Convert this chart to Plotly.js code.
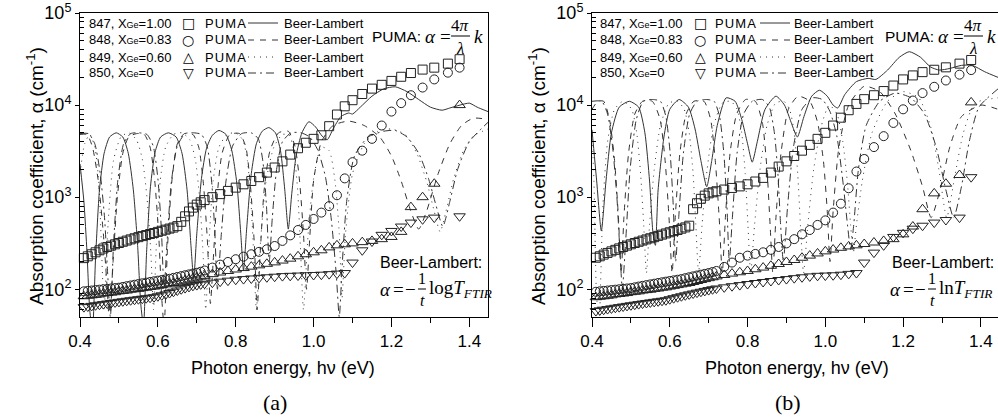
<!DOCTYPE html>
<html><head><meta charset="utf-8">
<script src="https://cdn.plot.ly/plotly-3.0.1.min.js"></script>
<style>html,body{margin:0;padding:0;background:#fff}#chart{width:998px;height:419px}</style>
</head><body><div id="chart"></div>
<script>
// ---------- PUMA marker data (shared energy grid, eV) ----------
const E_puma = [0.41,0.42,0.43,0.44,0.45,0.46,0.47,0.48,0.49,0.50,0.51,0.52,0.53,0.54,0.55,0.56,0.57,0.58,0.59,0.60,0.61,0.62,0.63,0.64,0.65,0.66,0.67,0.68,0.69,0.70,0.71,0.72,
  0.74,0.76,0.78,0.80,0.82,0.84,0.86,0.88,0.90,0.92,0.94,0.96,0.98,1.00,1.02,1.04,1.06,1.08,1.10,1.125,1.15,1.175,1.20,1.225,1.25,1.28,1.31,1.345,1.375];

// panel (a)
const sq_a  = [218,228,240,252,265,277,288,298,308,318,328,338,348,358,368,378,388,398,408,420,432,444,456,468,485,540,620,700,770,830,880,930,
  1000,1080,1170,1270,1380,1500,1650,1850,2100,2450,2900,3400,3900,4300,4700,5900,7900,9700,11300,13200,15100,16600,18300,20300,22300,24300,25500,28200,31500];
const ci_a  = [95,96,97,98,99,100,101,102,103,104,106,108,110,112,114,116,118,120,122,124,126,128,130,133,136,139,142,145,148,151,155,160,
  172,185,198,212,226,240,255,272,295,335,385,440,500,580,680,800,1050,1600,2400,3200,4300,6000,8500,10500,12800,15500,19000,22500,25500];
const tu_a  = [84,85,86,87,88,90,91,92,93,95,96,97,99,100,101,103,104,106,107,109,111,113,115,117,119,122,125,128,131,134,137,140,
  146,152,158,164,170,176,182,189,196,205,215,228,240,252,265,285,300,308,315,325,335,350,370,420,780,1000,1400,null,10000];
const td_a  = [64,65,66,67,68,69,70,71,72,73,74,75,76,77,78,79,80,81,82,84,86,88,91,94,97,100,103,106,109,111,113,115,
  118,121,124,127,129,131,133,135,137,139,140,141,142,143,144,146,148,150,195,265,330,390,430,480,530,575,600,null,620];

// panel (b)
const sq_b  = [220,228,238,248,258,268,278,288,298,308,318,328,338,348,358,368,380,392,404,416,428,440,455,470,490,740,860,960,1040,1100,1130,1160,
  1210,1260,1310,1380,1480,1620,1850,2150,2450,2800,3200,3700,4300,5000,6000,7300,8800,10300,11600,12800,14200,16300,19000,21000,22800,24200,25700,28200,30900];
const ci_b  = [94,95,96,97,98,99,100,101,102,103,105,107,109,111,113,115,117,119,121,123,125,127,129,132,135,138,141,144,147,150,154,158,
  175,195,220,232,242,252,268,288,315,350,395,440,500,560,680,850,1250,1900,2600,3500,4600,6400,9000,11200,13500,15800,18500,21400,24000];
const tu_b  = [82,83,84,85,86,88,89,90,91,93,94,95,97,98,99,101,102,104,105,107,109,111,113,115,117,120,123,126,129,132,135,138,
  143,148,153,158,165,172,180,188,198,208,220,232,245,258,270,282,292,300,310,322,335,350,395,480,740,1100,1400,1740,10700];
const td_b  = [58,59,60,61,62,63,64,65,66,67,68,69,70,71,72,73,74,75,76,78,80,82,84,86,88,90,92,94,96,98,100,102,
  105,108,111,114,117,120,123,126,129,132,135,138,140,141,142,144,147,150,195,250,300,370,410,455,490,530,565,600,1650];

// ---------- Beer-Lambert curves ----------
// panel (a)
const bl847_a_E = [0.400,0.410,0.418,0.425,0.432,0.440,0.450,0.462,0.476,0.493,0.510,0.524,0.537,0.548,0.556,0.563,0.571,0.581,0.593,0.607,0.627,0.647,0.662,0.675,0.685,0.692,0.700,0.712,0.725,0.740,0.757,0.775,0.790,0.803,0.813,0.820,0.828,0.840,0.853,0.868,0.885,0.902,0.915,0.926,0.935,0.944,0.955,0.970,0.988,1.005,1.022,1.035,1.050,1.070,1.090,1.100,1.120,1.150,1.180,1.210,1.240,1.270,1.300,1.330,1.350,1.376,1.400,1.420,1.448];
const bl847_a_A = [2300,900,250,60,35,220,1200,3000,4500,5000,4500,3000,1200,300,70,40,250,1300,3100,4500,5000,4500,3000,1200,300,130,400,1600,3400,4700,5300,4800,3200,1400,400,160,450,1800,3800,5200,5700,5000,3200,1200,450,1100,2800,5000,6600,5800,4600,4200,5500,7500,8200,8000,9500,12500,15000,15800,14000,11500,9500,8800,9300,10000,10500,9500,8500];
const bl848_a_E = [0.400,0.418,0.432,0.447,0.460,0.470,0.476,0.485,0.496,0.510,0.525,0.545,0.565,0.580,0.592,0.602,0.610,0.616,0.625,0.636,0.650,0.668,0.690,0.705,0.717,0.727,0.735,0.742,0.752,0.765,0.785,0.810,0.826,0.838,0.848,0.855,0.863,0.873,0.888,0.910,0.935,0.952,0.964,0.974,0.982,0.990,1.000,1.020,1.050,1.090,1.130,1.170,1.200,1.225,1.250,1.270,1.290,1.320,1.350,1.380,1.410,1.448];
const bl848_a_A = [4800,4800,3500,1500,400,100,40,200,1000,3000,4500,4900,4800,3500,1500,400,80,40,300,1500,3800,4900,4800,3500,1400,350,70,200,1000,3000,4800,4900,3500,1300,300,60,250,1200,3200,5000,5200,3600,1500,400,100,350,1500,4000,6000,6700,6000,4500,2800,1500,700,450,700,1800,3800,6000,7200,7000];
const bl849_a_E = [0.400,0.412,0.425,0.438,0.448,0.455,0.462,0.472,0.486,0.505,0.525,0.545,0.560,0.572,0.582,0.589,0.596,0.606,0.620,0.640,0.662,0.682,0.696,0.707,0.716,0.723,0.731,0.742,0.757,0.778,0.800,0.818,0.830,0.839,0.846,0.853,0.863,0.878,0.898,0.920,0.938,0.950,0.959,0.966,0.974,0.986,1.000,1.020,1.040,1.055,1.066,1.073,1.082,1.100,1.130,1.165,1.200,1.235,1.265,1.290,1.310,1.325,1.340,1.360,1.385,1.410,1.448];
const bl849_a_A = [1800,3800,4800,3500,1500,300,60,500,2500,4500,5000,4200,2600,1000,250,60,300,1500,3500,4800,5000,4200,2600,1000,250,60,300,1500,3500,4800,5000,4200,2500,900,250,60,300,1500,3500,4800,4700,3000,1200,300,60,400,1600,3500,3200,1500,400,80,400,1800,3800,5200,5500,4800,3000,1500,700,420,700,1600,3200,4600,5500];
const bl850_a_E = [0.400,0.422,0.438,0.452,0.463,0.471,0.478,0.486,0.497,0.512,0.530,0.552,0.572,0.588,0.600,0.609,0.616,0.624,0.635,0.650,0.670,0.692,0.712,0.727,0.738,0.746,0.753,0.762,0.775,0.792,0.815,0.840,0.858,0.870,0.879,0.886,0.894,0.905,0.920,0.942,0.968,0.990,1.010,1.030,1.045,1.058,1.066,1.074,1.085,1.105,1.140,1.180,1.210,1.240,1.270,1.295,1.315,1.332,1.350,1.370,1.400,1.448];
const bl850_a_A = [4900,4900,3800,1800,600,150,50,300,1500,3800,4900,5000,4800,3600,1600,450,100,350,1500,3600,4900,5000,4800,3500,1500,450,100,350,1500,3600,4900,5000,4300,2400,800,200,600,2000,4000,5000,5000,4500,3300,1700,600,150,50,200,900,2800,4500,5200,5300,4500,3000,1600,800,480,900,2000,4000,6500];

// panel (b)
const bl847_b_E = [0.400,0.412,0.424,0.436,0.450,0.470,0.496,0.520,0.536,0.548,0.557,0.563,0.570,0.585,0.600,0.624,0.648,0.665,0.680,0.695,0.708,0.722,0.745,0.768,0.785,0.800,0.812,0.825,0.845,0.873,0.895,0.912,0.928,0.945,0.965,0.985,1.005,1.020,1.032,1.050,1.080,1.110,1.130,1.160,1.190,1.216,1.245,1.270,1.293,1.320,1.350,1.378,1.410,1.444];
const bl847_b_A = [5400,1500,430,1500,5000,9500,11000,9500,5000,1500,400,300,1200,4500,9000,11500,9500,5500,2500,1300,2500,6000,12000,11000,7000,3800,2400,4000,9000,12500,10000,6500,4500,7500,12500,14500,12500,10000,9300,13000,18000,19500,19000,24000,33000,38000,33000,26000,24000,25000,27000,27000,23000,20000];
const bl848_b_E = [0.400,0.415,0.430,0.445,0.458,0.468,0.475,0.482,0.494,0.510,0.530,0.555,0.575,0.588,0.598,0.606,0.614,0.626,0.642,0.662,0.688,0.705,0.717,0.727,0.735,0.743,0.755,0.772,0.795,0.820,0.838,0.850,0.858,0.865,0.873,0.886,0.905,0.930,0.960,0.980,0.995,1.005,1.012,1.020,1.035,1.060,1.100,1.140,1.180,1.220,1.250,1.272,1.295,1.320,1.350,1.400,1.444];
const bl848_b_A = [9000,11000,11000,7000,2500,600,150,600,3000,8000,11000,11000,7000,2500,600,150,600,3000,8000,11000,11000,7000,2500,600,150,600,3000,8000,11500,11000,6500,2000,500,150,600,3000,9000,12500,11000,6500,2500,700,200,700,3500,10000,16000,14000,8000,3200,1300,600,1200,3500,7500,10000,9000];
const bl849_b_E = [0.400,0.405,0.411,0.418,0.428,0.440,0.458,0.480,0.502,0.515,0.525,0.533,0.540,0.548,0.560,0.576,0.598,0.620,0.637,0.650,0.660,0.667,0.674,0.683,0.696,0.713,0.735,0.757,0.773,0.785,0.794,0.801,0.808,0.818,0.832,0.850,0.872,0.893,0.908,0.920,0.929,0.936,0.944,0.955,0.970,0.990,1.010,1.030,1.045,1.057,1.065,1.072,1.080,1.095,1.120,1.160,1.200,1.240,1.270,1.292,1.312,1.332,1.355,1.385,1.444];
const bl849_b_A = [5000,1500,100,40,800,4000,9000,11000,9000,5000,1800,500,150,500,2000,6000,10500,11000,9000,5000,1800,500,150,500,2000,6000,10500,11000,9000,5000,1800,500,150,500,2000,6000,10500,11000,9000,5000,1800,500,150,500,2000,6000,10000,8000,4000,1400,500,250,500,1500,5000,11000,14000,12000,6000,2000,600,1600,5000,10500,12000];
const bl850_b_E = [0.400,0.425,0.440,0.453,0.464,0.472,0.478,0.486,0.498,0.514,0.532,0.556,0.576,0.590,0.601,0.609,0.615,0.623,0.635,0.651,0.670,0.694,0.714,0.728,0.739,0.747,0.753,0.761,0.773,0.790,0.812,0.838,0.856,0.869,0.878,0.885,0.892,0.903,0.918,0.940,0.968,0.992,1.012,1.030,1.045,1.057,1.065,1.073,1.085,1.105,1.140,1.180,1.220,1.255,1.285,1.310,1.330,1.350,1.370,1.395,1.444];
const bl850_b_A = [11000,11000,8000,3500,1000,250,100,300,2000,7000,11000,11500,11000,7500,3000,800,200,600,3000,8000,11000,11500,11000,7500,3000,800,200,600,3000,8000,11000,11500,9500,5000,1800,500,200,800,3500,9000,12000,11500,8500,4500,1500,500,270,500,2000,6000,11000,13500,12000,8000,3500,1200,600,1300,4000,9500,15000];

// ---------- labels ----------
const legendLabels = ['847, X<span style="font-size:9px">Ge</span>=1.00','848, X<span style="font-size:9px">Ge</span>=0.83','849, X<span style="font-size:9px">Ge</span>=0.60','850, X<span style="font-size:9px">Ge</span>=0'];
const legendSymbols = ['□','○','△','▽'];
const markerSymbols = ['square-open','circle-open','triangle-up-open','triangle-down-open'];
const markerSizes = [9,9,10,10];
const lineDashes = ['solid','6px,6px','1px,5px','8px,4px,2px,4px'];
const xTickVals = [0.4,0.6,0.8,1.0,1.2,1.4];
const xTickText = ['0.4','0.6','0.8','1.0','1.2','1.4'];
const xMinorVals = [0.5,0.7,0.9,1.1,1.3];
const yTickVals = [100,1000,10000,100000];
const yTickText = ['10<sup>2</sup>','10<sup>3</sup>','10<sup>4</sup>','10<sup>5</sup>'];
const yMinorVals = [60,70,80,90,200,300,400,500,600,700,800,900,2000,3000,4000,5000,6000,7000,8000,9000,20000,30000,40000,50000,60000,70000,80000,90000];

const W = 998, H = 419;
const px = v => v / W, py = v => 1 - v / H;
const LINEC = '#333';

const traces = [];
const pumaA = [sq_a, ci_a, tu_a, td_a], pumaB = [sq_b, ci_b, tu_b, td_b];
const blA = [[bl847_a_E,bl847_a_A],[bl848_a_E,bl848_a_A],[bl849_a_E,bl849_a_A],[bl850_a_E,bl850_a_A]];
const blB = [[bl847_b_E,bl847_b_A],[bl848_b_E,bl848_b_A],[bl849_b_E,bl849_b_A],[bl850_b_E,bl850_b_A]];
[[blA,'x','y'],[blB,'x2','y2']].forEach(([set,xa,ya]) => {
  set.forEach((s,i) => traces.push({x:s[0], y:s[1], xaxis:xa, yaxis:ya, mode:'lines', type:'scatter',
    line:{color:LINEC, width:1, dash:lineDashes[i], shape:'spline', smoothing:0.6}, showlegend:false, hoverinfo:'skip'}));
});
[[pumaA,'x','y'],[pumaB,'x2','y2']].forEach(([set,xa,ya]) => {
  set.forEach((s,i) => traces.push({x:E_puma, y:s, xaxis:xa, yaxis:ya, mode:'markers', type:'scatter', cliponaxis:false,
    marker:{symbol:markerSymbols[i], size:markerSizes[i], color:'#222', line:{width:1, color:'#222'}}, showlegend:false, hoverinfo:'skip'}));
});

const font = 'Liberation Sans, Arial, sans-serif';
const serif = 'Liberation Serif, Times New Roman, serif';
function xax(domain, rmax){ return {domain, range:[0.4,rmax], tickmode:'array', tickvals:xTickVals, ticktext:xTickText,
  ticks:'outside', ticklen:9, tickwidth:1, tickcolor:'#000', showline:true, linecolor:'#000', linewidth:1, mirror:true,
  showgrid:false, zeroline:false, tickfont:{family:font, size:17, color:'#000'},
  minor:{tickmode:'array', tickvals:xMinorVals, ticks:'outside', ticklen:5, tickcolor:'#000', showgrid:false}}; }
function yax(anchor){ return {domain:[py(317), py(13)], type:'log', range:[Math.log10(50),5], anchor, tickmode:'array', tickvals:yTickVals, ticktext:yTickText,
  ticks:'outside', ticklen:4, tickwidth:1, tickcolor:'#000', showline:true, linecolor:'#000', linewidth:1, mirror:true,
  showgrid:false, zeroline:false, tickfont:{family:font, size:18, color:'#000'},
  minor:{tickmode:'array', tickvals:yMinorVals, ticks:'inside', ticklen:4, tickcolor:'#000', showgrid:false}}; }

const ann = [], shapes = [];
function T(x,y,text,size,o){ ann.push(Object.assign({xref:'paper', yref:'paper', x:px(x), y:py(y), text, showarrow:false,
  xanchor:'left', yanchor:'middle', font:{family:font, size:size, color:'#000'}}, o||{})); }
function HL(x0,x1,y,dash){ shapes.push({type:'line', xref:'paper', yref:'paper', x0:px(x0), x1:px(x1), y0:py(y), y1:py(y), line:{color:dash?LINEC:'#000', width:1, dash:dash||'solid'}}); }

[[87,188,203,248,278,282],[598,700,713,760,790,792]].forEach(c => {
  [23,40,57,73].forEach((yy,i) => {
    T(c[0], yy, legendLabels[i], 13);
    T(c[1], yy, legendSymbols[i], 14, {xanchor:'center', font:{family:'DejaVu Sans', size:14, color:'#000'}});
    T(c[2], yy, 'P\u200aU\u200aM\u200aA', 13);
    HL(c[3], c[4], yy, lineDashes[i]);
    T(c[5], yy, 'Beer-Lambert', 13);
  });
});

// PUMA formula
function puma(x0){
  T(x0, 36, 'PUMA:', 15.5);
  T(x0+53, 37, '<i>α</i>', 19, {font:{family:serif, size:19, color:'#000'}});
  T(x0+75, 37, '=', 19, {xanchor:'center', font:{family:serif, size:19, color:'#000'}});
  T(x0+90, 25, '4<i>π</i>', 17, {xanchor:'center', font:{family:serif, size:17, color:'#000'}});
  T(x0+90, 48, '<i>λ</i>', 17, {xanchor:'center', font:{family:serif, size:17, color:'#000'}});
  HL(x0+81, x0+100, 36);
  T(x0+102, 37, '<i>k</i>', 19, {font:{family:serif, size:19, color:'#000'}});
}
puma(370); puma(883);
function bl(x0, fn, xr){
  T(xr, 262, 'Beer-Lambert:', 16, {xanchor:'right'});
  T(x0, 289, '<i>α</i>', 19, {font:{family:serif, size:19, color:'#000'}});
  T(x0+20, 289, '=', 19, {xanchor:'center', font:{family:serif, size:19, color:'#000'}});
  T(x0+32, 289, '−', 19, {xanchor:'center', font:{family:serif, size:19, color:'#000'}});
  T(x0+44, 278, '1', 16, {xanchor:'center', font:{family:serif, size:16, color:'#000'}});
  T(x0+44, 300, '<i>t</i>', 16, {xanchor:'center', font:{family:serif, size:16, color:'#000'}});
  HL(x0+40, x0+48, 289);
  T(x0+49, 289, fn+'<i>T</i><sub><i>FTIR</i></sub>', 19, {font:{family:serif, size:19, color:'#000'}});
}
bl(378, 'log', 484); bl(888, 'ln', 996);

// axis titles
T(35, 176, 'Absorption coefficient, α (cm<sup>-1</sup>)', 19, {xanchor:'center', textangle:-90});
T(537, 176, 'Absorption coefficient, α (cm<sup>-1</sup>)', 19, {xanchor:'center', textangle:-90});
T(283, 368, 'Photon energy, hν (eV)', 18, {xanchor:'center'});
T(797, 368, 'Photon energy, hν (eV)', 18, {xanchor:'center'});
T(275, 402, '(a)', 22, {xanchor:'center', font:{family:serif, size:22, color:'#000'}});
T(788, 402, '(b)', 22, {xanchor:'center', font:{family:serif, size:22, color:'#000'}});

const layout = {width:W, height:H, margin:{l:0,r:0,t:0,b:0}, paper_bgcolor:'#fff', plot_bgcolor:'#fff', showlegend:false,
  xaxis: xax([px(80), px(488)], 1.448), yaxis: yax('x'),
  xaxis2: Object.assign(xax([px(592), px(998)], 1.444), {anchor:'y2'}), yaxis2: yax('x2'),
  annotations: ann, shapes};
Plotly.newPlot('chart', traces, layout, {staticPlot:true});
</script></body></html>
